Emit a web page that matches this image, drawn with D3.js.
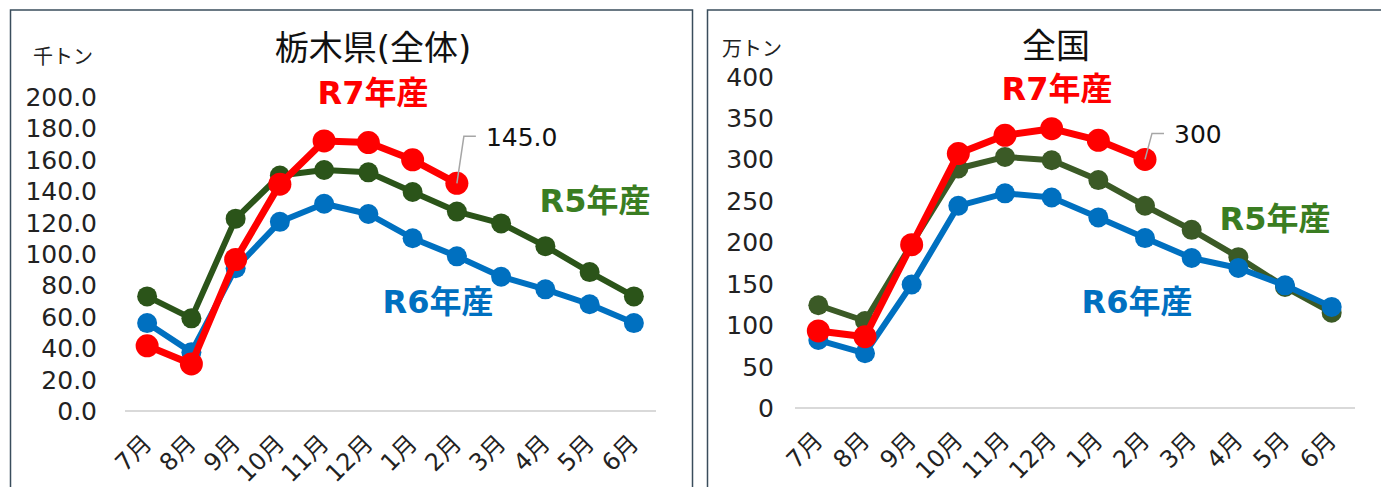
<!DOCTYPE html>
<html>
<head>
<meta charset="utf-8">
<script src="https://cdn.jsdelivr.net/npm/d3@7"></script>
<style>
  body { margin: 0; background: #fff; }
  svg { display: block; font-family: "DejaVu Sans", "Noto Sans CJK JP", sans-serif; }
</style>
</head>
<body>
<div id="chart"></div>
<script>
// categories (crop year: July -> June)
const months = ["7月", "8月", "9月", "10月", "11月", "12月", "1月", "2月", "3月", "4月", "5月", "6月"];

// 栃木県 (千トン)
const tochigiR5 = [73, 59, 122.5, 150, 153.5, 152, 139.5, 127, 119.5, 105, 88.5, 73];
const tochigiR6 = [56, 37.5, 91, 120.5, 132, 125.5, 110, 98.5, 85.5, 77.5, 68, 56];
const tochigiR7 = [41.5, 30, 96.5, 144.5, 172, 171, 160, 145.0];
const tochigiTicks = [0, 20, 40, 60, 80, 100, 120, 140, 160, 180, 200];

// 全国 (万トン)
const zenkokuR5 = [124, 105, 198, 289, 303, 299, 275, 244, 215, 182, 146, 115];
const zenkokuR6 = [82, 66, 149, 244, 259, 254, 230, 205, 181, 169, 148, 122];
const zenkokuR7 = [93, 86, 197, 307, 329, 337, 323, 300];
const zenkokuTicks = [0, 50, 100, 150, 200, 250, 300, 350, 400];

const width = 1381, height = 487;

const svg = d3.select("#chart").append("svg")
    .attr("width", width)
    .attr("height", height);

function drawPanel(p) {
    const g = svg.append("g");

    // panel frame (bottom / right edge falls outside the picture)
    g.append("rect")
        .attr("x", p.frame[0]).attr("y", 10)
        .attr("width", p.frame[1] - p.frame[0]).attr("height", 500)
        .attr("fill", "none")
        .attr("stroke", "#3a4d5c")
        .attr("stroke-width", 1.5);

    const x = d3.scaleBand().domain(months).range(p.xRange);
    const y = d3.scaleLinear().domain([0, p.ticks[p.ticks.length - 1]]).range(p.yRange);
    const cx = m => x(m) + x.bandwidth() / 2;

    // baseline
    g.append("line")
        .attr("x1", p.xRange[0]).attr("x2", p.xRange[1])
        .attr("y1", y(0)).attr("y2", y(0))
        .attr("stroke", "#d9d9d9").attr("stroke-width", 2);

    // y tick labels
    g.selectAll(".ytick")
        .data(p.ticks)
        .enter().append("text")
        .attr("x", p.yLabelX)
        .attr("y", d => y(d))
        .attr("dy", "0.36em")
        .attr("text-anchor", "end")
        .attr("font-size", 25)
        .attr("fill", "#222")
        .text(d => d3.format(p.fmt)(d));

    // x tick labels, rotated
    g.selectAll(".xtick")
        .data(months)
        .enter().append("text")
        .attr("transform", d => `translate(${cx(d) + 6},${p.xLabelY}) rotate(-45)`)
        .attr("text-anchor", "end")
        .attr("font-size", 24)
        .attr("fill", "#222")
        .text(d => d);

    // unit
    g.append("text")
        .attr("x", p.unit[1]).attr("y", p.unit[2])
        .attr("font-size", 20)
        .attr("fill", "#222")
        .text(p.unit[0]);

    // title
    g.append("text")
        .attr("x", p.title[1]).attr("y", p.title[2])
        .attr("text-anchor", "middle")
        .attr("font-size", 34)
        .attr("fill", "#111")
        .text(p.title[0]);

    const line = d3.line()
        .x((d, i) => cx(months[i]))
        .y(d => y(d));

    p.series.forEach(s => {
        g.append("path")
            .datum(s.values)
            .attr("d", line)
            .attr("fill", "none")
            .attr("stroke", s.color)
            .attr("stroke-width", s.width)
            .attr("stroke-linejoin", "round");
        g.selectAll(null)
            .data(s.values)
            .enter().append("circle")
            .attr("cx", (d, i) => cx(months[i]))
            .attr("cy", d => y(d))
            .attr("r", s.r)
            .attr("fill", s.color);
    });

    // series labels
    p.labels.forEach(l => {
        g.append("text")
            .attr("x", l.x).attr("y", l.y)
            .attr("text-anchor", "middle")
            .attr("font-size", 32)
            .attr("font-weight", "bold")
            .attr("fill", l.color)
            .text(l.text);
    });

    // data label on the last R7 point with leader line
    const r7 = p.series[2].values;
    const last = r7.length - 1;
    const px = cx(months[last]), py = y(r7[last]);
    const ly = py - p.leader;
    g.append("path")
        .attr("d", `M${px},${py}L${px + 7},${ly}L${px + 19},${ly}`)
        .attr("fill", "none")
        .attr("stroke", "#a6a6a6")
        .attr("stroke-width", 1.5);
    g.append("text")
        .attr("x", px + 29).attr("y", ly + 10)
        .attr("font-size", 25)
        .attr("fill", "#111")
        .text(d3.format(p.fmt)(r7[last]));
}

drawPanel({
    frame: [10.5, 692.5],
    xRange: [125, 656],
    yRange: [411, 97],
    ticks: tochigiTicks,
    fmt: ".1f",
    yLabelX: 97,
    xLabelY: 445,
    leader: 47,
    unit: ["千トン", 33, 64],
    title: ["栃木県(全体)", 373, 60],
    series: [
        { values: tochigiR5, color: "#2b5419", width: 6, r: 10 },
        { values: tochigiR6, color: "#0070c0", width: 6, r: 10 },
        { values: tochigiR7, color: "#ff0000", width: 7, r: 11.5 }
    ],
    labels: [
        { text: "R7年産", x: 373, y: 104, color: "#ff0000" },
        { text: "R5年産", x: 595, y: 212, color: "#3a7d22" },
        { text: "R6年産", x: 438, y: 313, color: "#0070c0" }
    ]
});

drawPanel({
    frame: [707.5, 1400],
    xRange: [795, 1355],
    yRange: [408, 76.5],
    ticks: zenkokuTicks,
    fmt: "d",
    yLabelX: 774,
    xLabelY: 442,
    leader: 26,
    unit: ["万トン", 722, 56],
    title: ["全国", 1056, 58],
    series: [
        { values: zenkokuR5, color: "#3b5a26", width: 6, r: 10 },
        { values: zenkokuR6, color: "#0070c0", width: 6, r: 10 },
        { values: zenkokuR7, color: "#ff0000", width: 7, r: 11.5 }
    ],
    labels: [
        { text: "R7年産", x: 1057, y: 100, color: "#ff0000" },
        { text: "R5年産", x: 1275, y: 230, color: "#3a7d22" },
        { text: "R6年産", x: 1137, y: 313, color: "#0070c0" }
    ]
});
</script>
</body>
</html>
